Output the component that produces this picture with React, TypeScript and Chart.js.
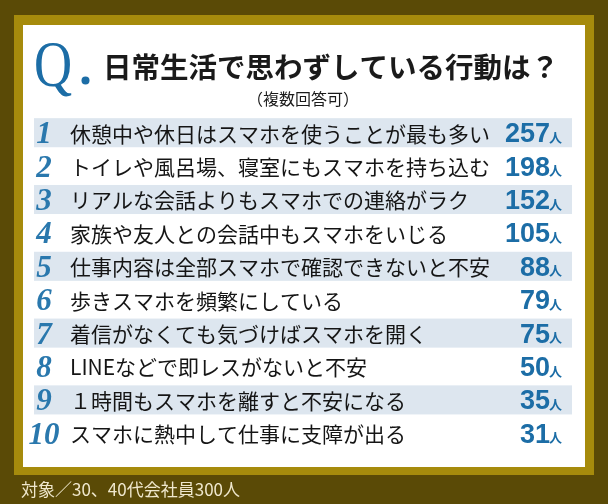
import React, { useEffect, useRef } from "react";
import { Chart, registerables } from "chart.js";

Chart.register(...registerables);

const ranks = ["1", "2", "3", "4", "5", "6", "7", "8", "9", "10"];
const categories = [
  "休憩中や休日はスマホを使うことが最も多い",
  "トイレや風呂場、寝室にもスマホを持ち込む",
  "リアルな会話よりもスマホでの連絡がラク",
  "家族や友人との会話中もスマホをいじる",
  "仕事内容は全部スマホで確認できないと不安",
  "歩きスマホを頻繁にしている",
  "着信がなくても気づけばスマホを開く",
  "LINEなどで即レスがないと不安",
  "１時間もスマホを離すと不安になる",
  "スマホに熱中して仕事に支障が出る",
];
const values = [257, 198, 152, 105, 88, 79, 75, 50, 35, 31];
const unit = "人";
const titleMark = "Q";
const titleText = "日常生活で思わずしている行動は？";
const subtitleText = "（複数回答可）";
const footerText = "対象／30、40代会社員300人";

const DARK = "#5a4a06";
const GOLD = "#a68b0c";
const STRIPE = "#dde6ef";
const BLUE = "#1c6da6";
const RANK_BLUE = "#2a78ad";
const CJK = "'Noto Sans CJK JP', 'Noto Sans', sans-serif";

const infographicPlugin = {
  id: "infographic",
  beforeDraw(chart: any) {
    const ctx = chart.ctx;
    const W = chart.width;
    const H = chart.height;
    ctx.save();
    ctx.fillStyle = DARK;
    ctx.fillRect(0, 0, W, H);
    ctx.fillStyle = GOLD;
    ctx.fillRect(14, 15, W - 28, 460);
    ctx.fillStyle = "#ffffff";
    ctx.fillRect(23, 25, W - 46, 442);

    // Title mark
    ctx.fillStyle = BLUE;
    ctx.textBaseline = "alphabetic";
    ctx.textAlign = "left";
    ctx.save();
    ctx.translate(34, 86);
    ctx.scale(0.8, 1);
    ctx.font = "66px 'Liberation Serif', serif";
    ctx.fillText(titleMark, 0, 0);
    ctx.restore();
    ctx.beginPath();
    ctx.arc(85.5, 80.5, 4, 0, Math.PI * 2);
    ctx.fill();

    // Title text
    ctx.fillStyle = "#1a1a1a";
    ctx.font = `bold 28.5px ${CJK}`;
    ctx.textBaseline = "middle";
    ctx.fillText(titleText, 103, 67);

    ctx.font = `16px ${CJK}`;
    ctx.textAlign = "center";
    ctx.fillText(subtitleText, 303, 99);

    // Footer
    ctx.fillStyle = "#efe7cc";
    ctx.textAlign = "left";
    ctx.font = `17px ${CJK}`;
    ctx.fillText(footerText, 21, 490);
    ctx.restore();
  },
  beforeDatasetsDraw(chart: any) {
    const ctx = chart.ctx;
    const y = chart.scales.y;
    const area = chart.chartArea;
    const pitch = (area.bottom - area.top) / categories.length;
    const band = pitch * 0.87;
    ctx.save();
    ctx.fillStyle = STRIPE;
    categories.forEach((_, i) => {
      if (i % 2 === 0) {
        const cy = y.getPixelForValue(i);
        ctx.fillRect(area.left, cy - band / 2, area.right - area.left, band);
      }
    });
    ctx.restore();
  },
  afterDatasetsDraw(chart: any) {
    const ctx = chart.ctx;
    const y = chart.scales.y;
    ctx.save();
    categories.forEach((label, i) => {
      const cy = y.getPixelForValue(i);
      // rank
      ctx.fillStyle = RANK_BLUE;
      ctx.textAlign = "center";
      ctx.textBaseline = "alphabetic";
      ctx.font = "italic bold 31px 'Liberation Serif', serif";
      ctx.fillText(ranks[i], 44, cy + 10.5);
      // label
      ctx.fillStyle = "#151515";
      ctx.textAlign = "left";
      ctx.textBaseline = "middle";
      ctx.font = `21px ${CJK}`;
      ctx.fillText(label, 70, cy + 1);
      // value
      ctx.fillStyle = BLUE;
      ctx.textBaseline = "alphabetic";
      ctx.textAlign = "right";
      ctx.font = `bold 13px ${CJK}`;
      ctx.fillText(unit, 562, cy + 9);
      ctx.font = "bold 27px 'Liberation Sans', sans-serif";
      ctx.fillText(String(values[i]), 550, cy + 9.5);
    });
    ctx.restore();
  },
};

export default function App() {
  const ref = useRef<HTMLCanvasElement | null>(null);
  useEffect(() => {
    if (!ref.current) return;
    const chart = new Chart(ref.current, {
      type: "bar",
      data: {
        labels: categories,
        datasets: [
          {
            data: values,
            backgroundColor: "rgba(0,0,0,0)",
            borderWidth: 0,
          },
        ],
      },
      options: {
        indexAxis: "y",
        responsive: false,
        animation: false,
        layout: { padding: { left: 34, right: 36, top: 116, bottom: 54 } },
        plugins: {
          legend: { display: false },
          tooltip: { enabled: false },
          title: { display: false },
        },
        scales: {
          x: { display: false, min: 0, max: 300 },
          y: { display: false, type: "category" },
        },
      },
      plugins: [infographicPlugin],
    });
    return () => chart.destroy();
  }, []);
  return (
    <div style={{ position: "absolute", left: 0, top: 0, width: 608, height: 504 }}>
      <canvas ref={ref} width={608} height={504} style={{ width: 608, height: 504, display: "block" }} />
    </div>
  );
}
